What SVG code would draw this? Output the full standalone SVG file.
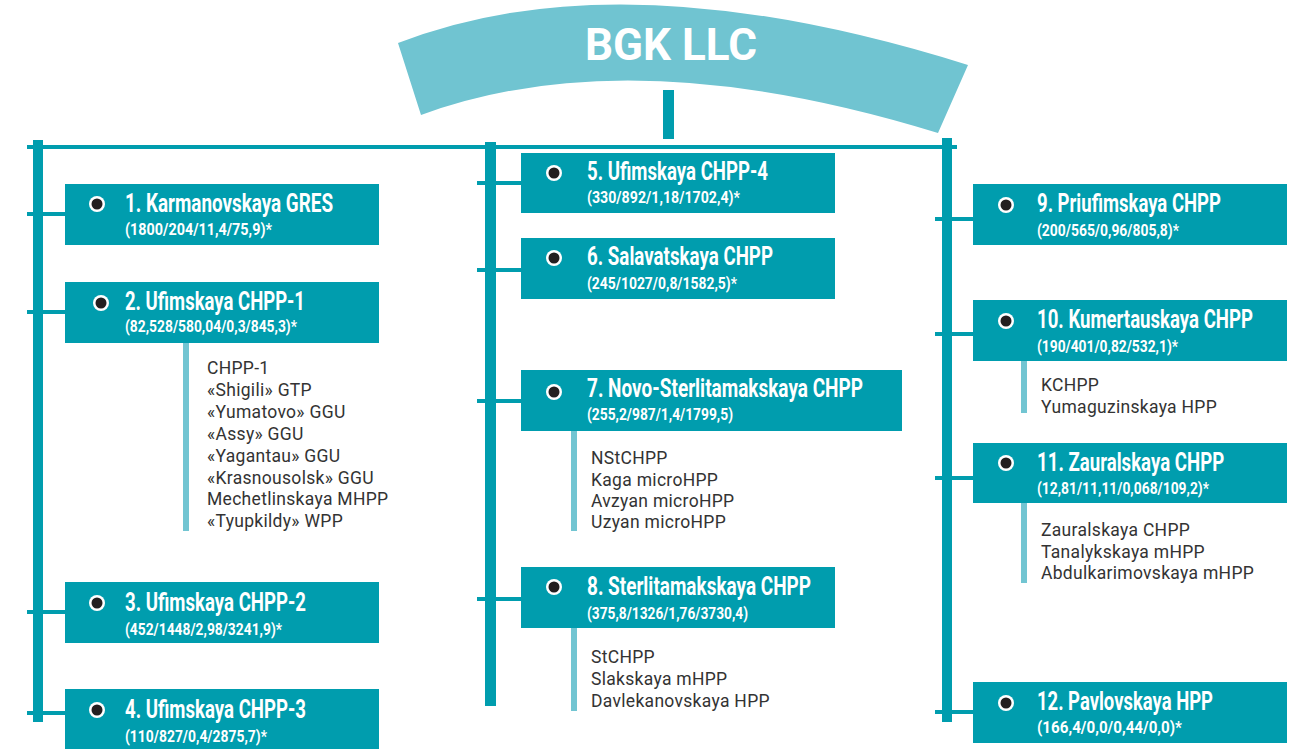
<svg xmlns="http://www.w3.org/2000/svg" width="1294" height="749" viewBox="0 0 1294 749">
<style>
.box{fill:#009DAE}
.bar{fill:#009DAE}
.sub{fill:#72C5D2}
.stub{stroke:#009DAE;stroke-width:4;fill:none}
.dot-o{fill:#ffffff}
.dot-i{fill:#231F20}
.t{font-family:Roboto,"Liberation Sans",sans-serif;font-weight:bold;fill:#ffffff;font-size:26px}
.s{font-family:Roboto,"Liberation Sans",sans-serif;font-weight:bold;fill:#ffffff;font-size:16px}
.l{font-family:Roboto,"Liberation Sans",sans-serif;fill:#333333;font-size:17.5px;letter-spacing:0.3px}
.h{font-family:Roboto,"Liberation Sans",sans-serif;font-weight:bold;fill:#ffffff;font-size:44px}
</style>
<g id="header">
<path d="M398,43 Q621,-44 968,65 L938,133 Q630,38 421,115 Z" fill="#70C4D1"/>
<text class="h" x="671" y="60" text-anchor="middle">BGK LLC</text>
</g>
<g id="connectors">
<rect x="663" y="90" width="11" height="49" class="bar"/>
<rect x="27" y="145" width="930" height="4" class="bar"/>
<rect x="33" y="140" width="10" height="582" class="bar"/>
<rect x="485" y="142" width="11" height="564" class="bar"/>
<rect x="942" y="138" width="10" height="584" class="bar"/>
<line class="stub" x1="27" y1="214" x2="65" y2="214"/>
<line class="stub" x1="27" y1="312" x2="65" y2="312"/>
<line class="stub" x1="27" y1="612" x2="65" y2="612"/>
<line class="stub" x1="27" y1="713" x2="65" y2="713"/>
<line class="stub" x1="477" y1="183" x2="521" y2="183"/>
<line class="stub" x1="477" y1="270" x2="521" y2="270"/>
<line class="stub" x1="477" y1="401" x2="521" y2="401"/>
<line class="stub" x1="477" y1="599" x2="521" y2="599"/>
<line class="stub" x1="935" y1="219" x2="973" y2="219"/>
<line class="stub" x1="935" y1="334" x2="973" y2="334"/>
<line class="stub" x1="935" y1="478" x2="973" y2="478"/>
<line class="stub" x1="935" y1="712" x2="973" y2="712"/>
<rect x="183" y="343" width="6" height="188" class="sub"/>
<rect x="571" y="431" width="6" height="100" class="sub"/>
<rect x="571" y="628" width="6" height="83" class="sub"/>
<rect x="1021" y="361" width="6" height="52" class="sub"/>
<rect x="1021" y="503" width="6" height="80" class="sub"/>
</g>
<g id="n1">
<rect class="box" x="65" y="184" width="314" height="61"/>
<circle class="dot-o" cx="97" cy="204" r="8"/><circle class="dot-i" cx="97" cy="204" r="5.5"/>
<text class="t" x="125" y="212" textLength="208" lengthAdjust="spacingAndGlyphs">1. Karmanovskaya GRES</text>
<text class="s" x="125" y="235" textLength="147" lengthAdjust="spacingAndGlyphs">(1800/204/11,4/75,9)*</text>
</g>
<g id="n2">
<rect class="box" x="65" y="282" width="314" height="61"/>
<circle class="dot-o" cx="101" cy="303" r="8"/><circle class="dot-i" cx="101" cy="303" r="5.5"/>
<text class="t" x="125" y="310" textLength="180" lengthAdjust="spacingAndGlyphs">2. Ufimskaya CHPP-1</text>
<text class="s" x="125" y="332" textLength="172" lengthAdjust="spacingAndGlyphs">(82,528/580,04/0,3/845,3)*</text>
<text class="l" x="207" y="374">CHPP-1</text>
<text class="l" x="207" y="396">«Shigili» GTP</text>
<text class="l" x="207" y="418">«Yumatovo» GGU</text>
<text class="l" x="207" y="440">«Assy» GGU</text>
<text class="l" x="207" y="462">«Yagantau» GGU</text>
<text class="l" x="207" y="484">«Krasnousolsk» GGU</text>
<text class="l" x="207" y="505">Mechetlinskaya MHPP</text>
<text class="l" x="207" y="527">«Tyupkildy» WPP</text>
</g>
<g id="n3">
<rect class="box" x="65" y="582" width="314" height="61"/>
<circle class="dot-o" cx="97" cy="603" r="8"/><circle class="dot-i" cx="97" cy="603" r="5.5"/>
<text class="t" x="125" y="611" textLength="181" lengthAdjust="spacingAndGlyphs">3. Ufimskaya CHPP-2</text>
<text class="s" x="125" y="635" textLength="157" lengthAdjust="spacingAndGlyphs">(452/1448/2,98/3241,9)*</text>
</g>
<g id="n4">
<rect class="box" x="65" y="689" width="314" height="62"/>
<circle class="dot-o" cx="97" cy="710" r="8"/><circle class="dot-i" cx="97" cy="710" r="5.5"/>
<text class="t" x="125" y="718" textLength="181" lengthAdjust="spacingAndGlyphs">4. Ufimskaya CHPP-3</text>
<text class="s" x="125" y="742" textLength="142" lengthAdjust="spacingAndGlyphs">(110/827/0,4/2875,7)*</text>
</g>
<g id="n5">
<rect class="box" x="521" y="153" width="314" height="60"/>
<circle class="dot-o" cx="554" cy="173" r="8"/><circle class="dot-i" cx="554" cy="173" r="5.5"/>
<text class="t" x="587" y="180" textLength="181" lengthAdjust="spacingAndGlyphs">5. Ufimskaya CHPP-4</text>
<text class="s" x="587" y="203" textLength="153" lengthAdjust="spacingAndGlyphs">(330/892/1,18/1702,4)*</text>
</g>
<g id="n6">
<rect class="box" x="521" y="238" width="314" height="61"/>
<circle class="dot-o" cx="554" cy="258" r="8"/><circle class="dot-i" cx="554" cy="258" r="5.5"/>
<text class="t" x="587" y="265" textLength="186" lengthAdjust="spacingAndGlyphs">6. Salavatskaya CHPP</text>
<text class="s" x="587" y="289" textLength="150" lengthAdjust="spacingAndGlyphs">(245/1027/0,8/1582,5)*</text>
</g>
<g id="n7">
<rect class="box" x="521" y="370" width="381" height="61"/>
<circle class="dot-o" cx="554" cy="392" r="8"/><circle class="dot-i" cx="554" cy="392" r="5.5"/>
<text class="t" x="587" y="397" textLength="276" lengthAdjust="spacingAndGlyphs">7. Novo-Sterlitamakskaya CHPP</text>
<text class="s" x="587" y="420" textLength="146" lengthAdjust="spacingAndGlyphs">(255,2/987/1,4/1799,5)</text>
<text class="l" x="591" y="464">NStCHPP</text>
<text class="l" x="591" y="486">Kaga microHPP</text>
<text class="l" x="591" y="507">Avzyan microHPP</text>
<text class="l" x="591" y="528">Uzyan microHPP</text>
</g>
<g id="n8">
<rect class="box" x="521" y="567" width="314" height="61"/>
<circle class="dot-o" cx="554" cy="587" r="8"/><circle class="dot-i" cx="554" cy="587" r="5.5"/>
<text class="t" x="587" y="595" textLength="224" lengthAdjust="spacingAndGlyphs">8. Sterlitamakskaya CHPP</text>
<text class="s" x="587" y="619" textLength="161" lengthAdjust="spacingAndGlyphs">(375,8/1326/1,76/3730,4)</text>
<text class="l" x="591" y="663">StCHPP</text>
<text class="l" x="591" y="685">Slakskaya mHPP</text>
<text class="l" x="591" y="707">Davlekanovskaya HPP</text>
</g>
<g id="n9">
<rect class="box" x="973" y="184" width="314" height="61"/>
<circle class="dot-o" cx="1006" cy="205" r="8"/><circle class="dot-i" cx="1006" cy="205" r="5.5"/>
<text class="t" transform="translate(1037 212) scale(0.8 1)" x="0" y="0" textLength="230" lengthAdjust="spacingAndGlyphs">9. Priufimskaya CHPP</text>
<text class="s" x="1037" y="236" textLength="142" lengthAdjust="spacingAndGlyphs">(200/565/0,96/805,8)*</text>
</g>
<g id="n10">
<rect class="box" x="973" y="300" width="314" height="61"/>
<circle class="dot-o" cx="1006" cy="321" r="8"/><circle class="dot-i" cx="1006" cy="321" r="5.5"/>
<text class="t" transform="translate(1037 328) scale(0.8 1)" x="0" y="0" textLength="270" lengthAdjust="spacingAndGlyphs">10. Kumertauskaya CHPP</text>
<text class="s" x="1037" y="352" textLength="141" lengthAdjust="spacingAndGlyphs">(190/401/0,82/532,1)*</text>
<text class="l" x="1041" y="391">KCHPP</text>
<text class="l" x="1041" y="413">Yumaguzinskaya HPP</text>
</g>
<g id="n11">
<rect class="box" x="973" y="443" width="314" height="60"/>
<circle class="dot-o" cx="1006" cy="463" r="8"/><circle class="dot-i" cx="1006" cy="463" r="5.5"/>
<text class="t" transform="translate(1037 471) scale(0.8 1)" x="0" y="0" textLength="234" lengthAdjust="spacingAndGlyphs">11. Zauralskaya CHPP</text>
<text class="s" x="1037" y="494" textLength="172" lengthAdjust="spacingAndGlyphs">(12,81/11,11/0,068/109,2)*</text>
<text class="l" x="1041" y="536">Zauralskaya CHPP</text>
<text class="l" x="1041" y="558">Tanalykskaya mHPP</text>
<text class="l" x="1041" y="579">Abdulkarimovskaya mHPP</text>
</g>
<g id="n12">
<rect class="box" x="973" y="682" width="314" height="61"/>
<circle class="dot-o" cx="1006" cy="703" r="8"/><circle class="dot-i" cx="1006" cy="703" r="5.5"/>
<text class="t" transform="translate(1037 710) scale(0.8 1)" x="0" y="0" textLength="220" lengthAdjust="spacingAndGlyphs">12. Pavlovskaya HPP</text>
<text class="s" x="1037" y="733" textLength="145" lengthAdjust="spacingAndGlyphs">(166,4/0,0/0,44/0,0)*</text>
</g>
</svg>
